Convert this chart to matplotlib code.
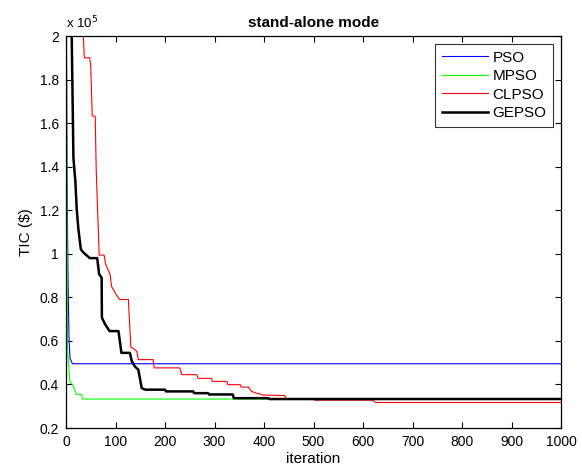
import matplotlib
matplotlib.use('Agg')
import matplotlib.pyplot as plt
from matplotlib.ticker import FuncFormatter, MultipleLocator

plt.rcParams['font.family'] = ['Liberation Sans', 'DejaVu Sans']

# convergence curves, TIC in $ (x 1e5)
pso_it = [0, 2, 4, 6, 8, 13, 1000]
pso_tic = [2.6, 1.4, 0.9, 0.62, 0.52, 0.495, 0.495]

mpso_it = [0, 3, 5, 8, 13, 15, 21, 32, 33, 1000]
mpso_tic = [2.5, 0.56, 0.5, 0.41, 0.40, 0.39, 0.355, 0.353, 0.333, 0.333]

clpso_it = [0, 35, 37, 48, 50, 53, 59, 61, 67, 77, 80, 89, 92, 102, 109, 126,
            131, 143, 146, 176, 178, 230, 234, 264, 267, 294, 296, 325, 327,
            352, 354, 368, 375, 382, 390, 399, 442, 444, 500, 502, 620, 625, 1000]
clpso_tic = [2.6, 2.0, 1.90, 1.90, 1.86, 1.634, 1.63, 1.39, 0.994, 0.994, 0.952,
             0.906, 0.85, 0.81, 0.79, 0.79, 0.572, 0.553, 0.514, 0.514, 0.476,
             0.476, 0.445, 0.445, 0.428, 0.428, 0.414, 0.414, 0.399, 0.399,
             0.388, 0.388, 0.368, 0.362, 0.357, 0.351, 0.349, 0.333, 0.333,
             0.328, 0.328, 0.317, 0.317]

gepso_it = [0, 11.5, 15, 19, 21.6, 25, 30, 35, 48, 63, 67, 72, 72.5, 79, 88, 106,
            112, 129, 133, 139, 146, 153, 160, 200, 202, 257, 259, 287, 289, 337,
            339, 409, 411, 1000]
gepso_tic = [2.4, 2.0, 1.44, 1.33, 1.206, 1.114, 1.02, 1.006, 0.98, 0.98, 0.906,
             0.89, 0.707, 0.676, 0.645, 0.645, 0.545, 0.545, 0.506, 0.483, 0.468,
             0.383, 0.376, 0.376, 0.368, 0.368, 0.36, 0.36, 0.354, 0.354, 0.337,
             0.337, 0.333, 0.333]

scale = 1e5

fig = plt.figure(figsize=(5.82, 4.72), dpi=100)
# axes box: x 66..561 px, y 36..428 px
ax = fig.add_axes([66 / 582, 1 - 428 / 472, 495 / 582, 392 / 472])

ax.plot(pso_it, [v * scale for v in pso_tic], color='#0000ff', lw=0.8, label='PSO')
ax.plot(mpso_it, [v * scale for v in mpso_tic], color='#00ff00', lw=0.8, label='MPSO')
ax.plot(clpso_it, [v * scale for v in clpso_tic], color='#ff0000', lw=0.8, label='CLPSO')
ax.plot(gepso_it, [v * scale for v in gepso_tic], color='black', lw=1.8, label='GEPSO')

ax.set_xlim(0, 1000)
ax.set_ylim(0.2 * scale, 2 * scale)
ax.xaxis.set_major_locator(MultipleLocator(100))
ax.yaxis.set_major_locator(MultipleLocator(0.2 * scale))
ax.yaxis.set_major_formatter(FuncFormatter(lambda v, p: '%g' % round(v / scale, 2)))

ax.tick_params(direction='in', length=4, width=0.8, top=True, right=True,
               labelsize=10, pad=5)
for s in ax.spines.values():
    s.set_linewidth(0.9)

ax.set_title('stand-alone mode', fontsize=11, fontweight='bold', pad=6.5)
ax.set_xlabel('iteration', fontsize=11, labelpad=2)
ax.set_ylabel(r'TIC (\$)', fontsize=11, labelpad=5)
ax.text(0.0, 1.012, r'x 10$^{5}$', transform=ax.transAxes, fontsize=9.5,
        ha='left', va='bottom')

leg = ax.legend(loc='upper right', fontsize=11, frameon=True, fancybox=False,
                edgecolor='black', handlelength=3.0, handletextpad=0.3,
                labelspacing=0.3, borderaxespad=0.5, borderpad=0.45)
leg.get_frame().set_linewidth(0.8)

fig.savefig('out.png', dpi=100)
